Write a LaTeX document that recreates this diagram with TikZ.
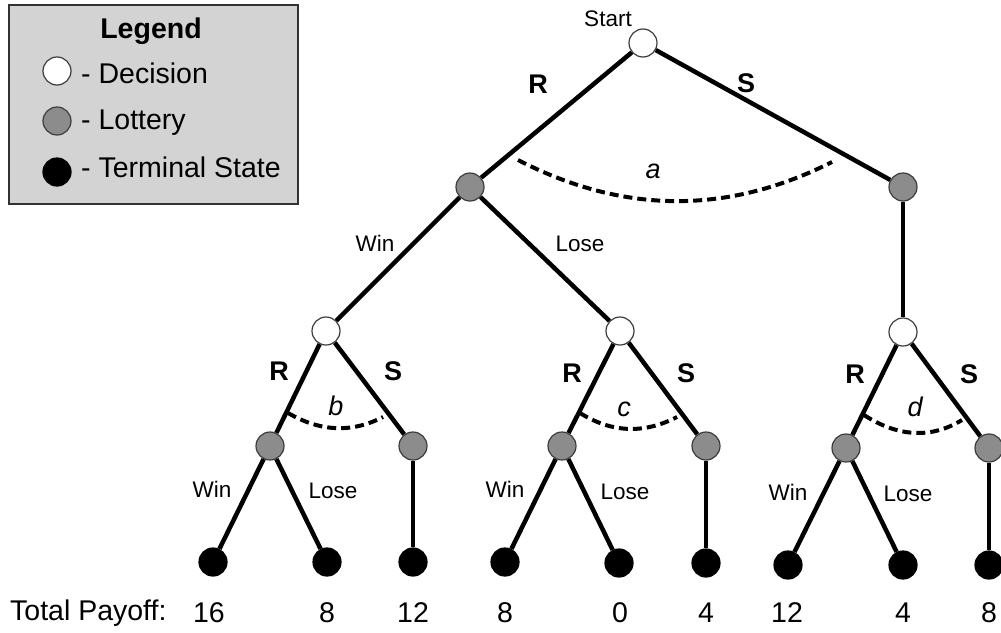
\documentclass[tikz,border=0pt]{standalone}
\usepackage{fontspec}
\setmainfont{Liberation Sans}
\usetikzlibrary{calc}
\definecolor{lotgray}{RGB}{140,140,140}
\definecolor{nodeedge}{RGB}{60,60,60}
\definecolor{legfill}{RGB}{211,211,211}
\definecolor{legedge}{RGB}{50,50,50}
\tikzset{
  basenode/.style={circle, minimum size=28pt, inner sep=0pt, draw=nodeedge, line width=1.2pt},
  decision/.style={basenode, fill=white},
  lottery/.style={basenode, fill=lotgray},
  terminal/.style={basenode, fill=black, draw=black},
  edge/.style={line width=4.5pt, black},
  infoarc/.style={line width=4pt, dash pattern=on 9pt off 5pt, black},
  smalllbl/.style={font=\fontsize{22.5}{25}\selectfont, inner sep=0pt},
  actlbl/.style={font=\fontsize{27}{30}\selectfont\bfseries, inner sep=0pt},
  arclbl/.style={font=\fontsize{27}{30}\selectfont\itshape, inner sep=0pt},
  paylbl/.style={font=\fontsize{28.5}{31}\selectfont, inner sep=0pt},
  leglbl/.style={font=\fontsize{28.5}{31}\selectfont, inner sep=0pt, anchor=west},
}
\begin{document}
\begin{tikzpicture}[x=1pt, y=-1pt]
\useasboundingbox (0,0) rectangle (1001,632);

% Legend
\draw[fill=legfill, draw=legedge, line width=2pt] (9,5) rectangle (298,204);
\node[font=\fontsize{28.5}{31}\selectfont\bfseries, inner sep=0pt] (legtitle) at (151,31) {Legend};
\node[decision] (legd) at (57,71) {};
\node[lottery] (legl) at (57,121) {};
\node[terminal] (legt) at (57,172) {};
\node[leglbl] (legdt) at (81,73) {- Decision};
\node[leglbl] (leglt) at (81,123) {- Lottery};
\node[leglbl] (legtt) at (81,167) {- Terminal State};

% Tree nodes
\node[decision] (start) at (643,43) {};
\node[lottery] (l1) at (470,187) {};
\node[lottery] (r1) at (903,187) {};
\node[decision] (d1) at (326,331) {};
\node[decision] (d2) at (620,331) {};
\node[decision] (d3) at (903,332) {};
\node[lottery] (la) at (270,446) {};
\node[lottery] (lb) at (413,446) {};
\node[lottery] (lc) at (562,446) {};
\node[lottery] (ld) at (706,446) {};
\node[lottery] (le) at (846,448) {};
\node[lottery] (lf) at (989,448) {};
\node[terminal] (t1) at (213,562) {};
\node[terminal] (t2) at (327,562) {};
\node[terminal] (t3) at (413,562) {};
\node[terminal] (t4) at (505,562) {};
\node[terminal] (t5) at (619,563) {};
\node[terminal] (t6) at (706,563) {};
\node[terminal] (t7) at (788,565) {};
\node[terminal] (t8) at (903,565) {};
\node[terminal] (t9) at (989,565) {};

% Edges
\draw[edge] (start) -- (l1);
\draw[edge] (start) -- (r1);
\draw[edge] (l1) -- (d1);
\draw[edge] (l1) -- (d2);
\draw[edge] (r1) -- (d3);
\draw[edge] (d1) -- (la);
\draw[edge] (d1) -- (lb);
\draw[edge] (d2) -- (lc);
\draw[edge] (d2) -- (ld);
\draw[edge] (d3) -- (le);
\draw[edge] (d3) -- (lf);
\draw[edge] (la) -- (t1);
\draw[edge] (la) -- (t2);
\draw[edge] (lb) -- (t3);
\draw[edge] (lc) -- (t4);
\draw[edge] (lc) -- (t5);
\draw[edge] (ld) -- (t6);
\draw[edge] (le) -- (t7);
\draw[edge] (le) -- (t8);
\draw[edge] (lf) -- (t9);

% Information arcs
\draw[infoarc] (518,160) .. controls (623,214) and (727,215) .. (832,162);
\draw[infoarc] (288,413) .. controls (321,432) and (352,433) .. (383,417);
\draw[infoarc] (580,413) .. controls (612,433) and (644,434) .. (677,417);
\draw[infoarc] (864,415) .. controls (898,437) and (931,439) .. (962,420);
\node[arclbl] (la_a) at (653,171) {a};
\node[arclbl] (la_b) at (336,406) {b};
\node[arclbl] (la_c) at (624,409) {c};
\node[arclbl] (la_d) at (915,407) {d};

% Labels
\node[smalllbl] (startlbl) at (608,19) {Start};
\node[actlbl] (r0) at (538,84) {R};
\node[actlbl] (s0) at (746,83) {S};
\node[smalllbl] (w1) at (375,243) {Win};
\node[smalllbl] (lo1) at (580,244) {Lose};
\node[actlbl] (ra) at (279,371) {R};
\node[actlbl] (sa) at (393,371) {S};
\node[actlbl] (rb) at (572,373) {R};
\node[actlbl] (sb) at (686,373) {S};
\node[actlbl] (rc) at (855,374) {R};
\node[actlbl] (sc) at (969,374) {S};
\node[smalllbl] (w2) at (212,489) {Win};
\node[smalllbl] (lo2) at (333,491) {Lose};
\node[smalllbl] (w3) at (505,489) {Win};
\node[smalllbl] (lo3) at (625,492) {Lose};
\node[smalllbl] (w4) at (788,492) {Win};
\node[smalllbl] (lo4) at (908,494) {Lose};

% Payoffs
\node[paylbl, anchor=west] (tp) at (10,613) {Total Payoff:};
\node[paylbl] (p1) at (209,613) {16};
\node[paylbl] (p2) at (327,613) {8};
\node[paylbl] (p3) at (413,613) {12};
\node[paylbl] (p4) at (505,613) {8};
\node[paylbl] (p5) at (620,613) {0};
\node[paylbl] (p6) at (706,613) {4};
\node[paylbl] (p7) at (787,613) {12};
\node[paylbl] (p8) at (903,613) {4};
\node[paylbl] (p9) at (989,613) {8};
\end{tikzpicture}
\end{document}
